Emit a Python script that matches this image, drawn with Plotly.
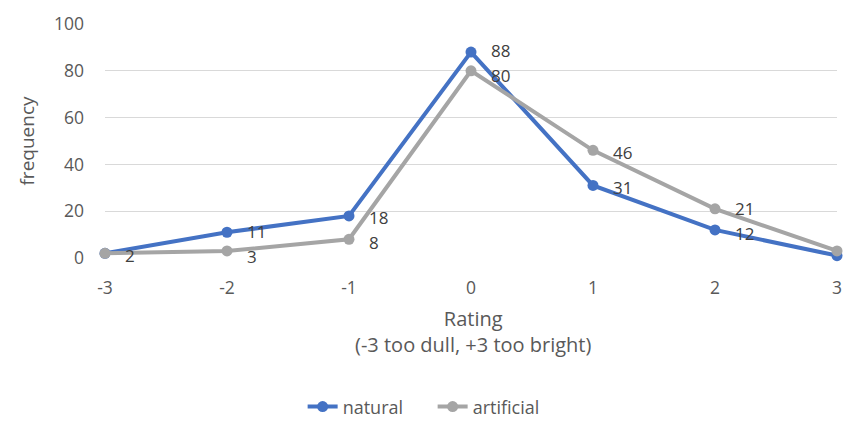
import plotly.graph_objects as go

ratings = [-3, -2, -1, 0, 1, 2, 3]
natural = [2, 11, 18, 88, 31, 12, 1]
artificial = [2, 3, 8, 80, 46, 21, 3]
# value labels; at -3 both series read 2 and share one label, none at +3
natural_labels = ["2", "11", "18", "88", "31", "12", ""]
artificial_labels = ["", "3", "8", "80", "46", "21", ""]

FONT = "'Open Sans', Lato, sans-serif"
TICK_COLOR = "#595959"
LABEL_COLOR = "#404040"
Y_RANGE = [0, 100]
PLOT_H = 234          # plot area height in px
LABEL_GAP = 25        # minimum vertical spacing between stacked labels


def value_labels(values, labels, others, other_labels):
    """Data labels to the right of each point, nudged apart where two series crowd together."""
    px_per_unit = PLOT_H / (Y_RANGE[1] - Y_RANGE[0])
    out = []
    for r, v, t, ov, ot in zip(ratings, values, labels, others, other_labels):
        if not t:
            continue
        shift = -2
        if ot:
            d = (v - ov) * px_per_unit
            if abs(d) < LABEL_GAP:
                push = (LABEL_GAP - abs(d)) / 2
                shift += push if d > 0 else -push
        out.append(dict(x=r, y=v, xref="x", yref="y", text=t, showarrow=False,
                        xanchor="left", yanchor="middle", xshift=19, yshift=shift,
                        borderpad=0, font=dict(size=17, color=LABEL_COLOR, family=FONT)))
    return out


fig = go.Figure()
fig.add_trace(go.Scatter(
    x=ratings, y=natural, name="natural", mode="lines+markers",
    line=dict(color="#4472C4", width=4), marker=dict(size=11, color="#4472C4"),
    cliponaxis=False,
))
fig.add_trace(go.Scatter(
    x=ratings, y=artificial, name="artificial", mode="lines+markers",
    line=dict(color="#A5A5A5", width=4), marker=dict(size=11, color="#A5A5A5"),
    cliponaxis=False,
))

annotations = (value_labels(natural, natural_labels, artificial, artificial_labels)
               + value_labels(artificial, artificial_labels, natural, natural_labels))
annotations.append(
    dict(text="Rating<br>(-3 too dull, +3 too bright)", xref="paper", yref="paper",
         x=0.503, y=-0.312, showarrow=False, yanchor="middle", align="center",
         font=dict(size=20, color=TICK_COLOR)))

fig.update_layout(
    width=848, height=428,
    margin=dict(l=105, r=11, t=24, b=170, autoexpand=False),
    paper_bgcolor="white", plot_bgcolor="white",
    font=dict(family=FONT, size=17, color=TICK_COLOR),
    showlegend=True,
    legend=dict(orientation="h", x=0.27, xanchor="left", y=-0.636, yanchor="middle",
                entrywidth=85, entrywidthmode="pixels",
                font=dict(size=18, color=TICK_COLOR)),
    xaxis=dict(range=[-3, 3], tickvals=ratings, ticktext=[str(r) for r in ratings],
               showgrid=False, zeroline=False, showline=False, ticks="",
               ticklabelstandoff=17, tickfont=dict(size=17.5, color=TICK_COLOR)),
    yaxis=dict(range=Y_RANGE, dtick=20, showgrid=True, gridcolor="#D9D9D9", gridwidth=1,
               zeroline=False, showline=False, ticks="", ticklabelstandoff=20,
               tickfont=dict(size=17.5, color=TICK_COLOR),
               title=dict(text="frequency", font=dict(size=19, color=TICK_COLOR), standoff=14)),
    annotations=annotations,
)

fig.write_html("out.html")
